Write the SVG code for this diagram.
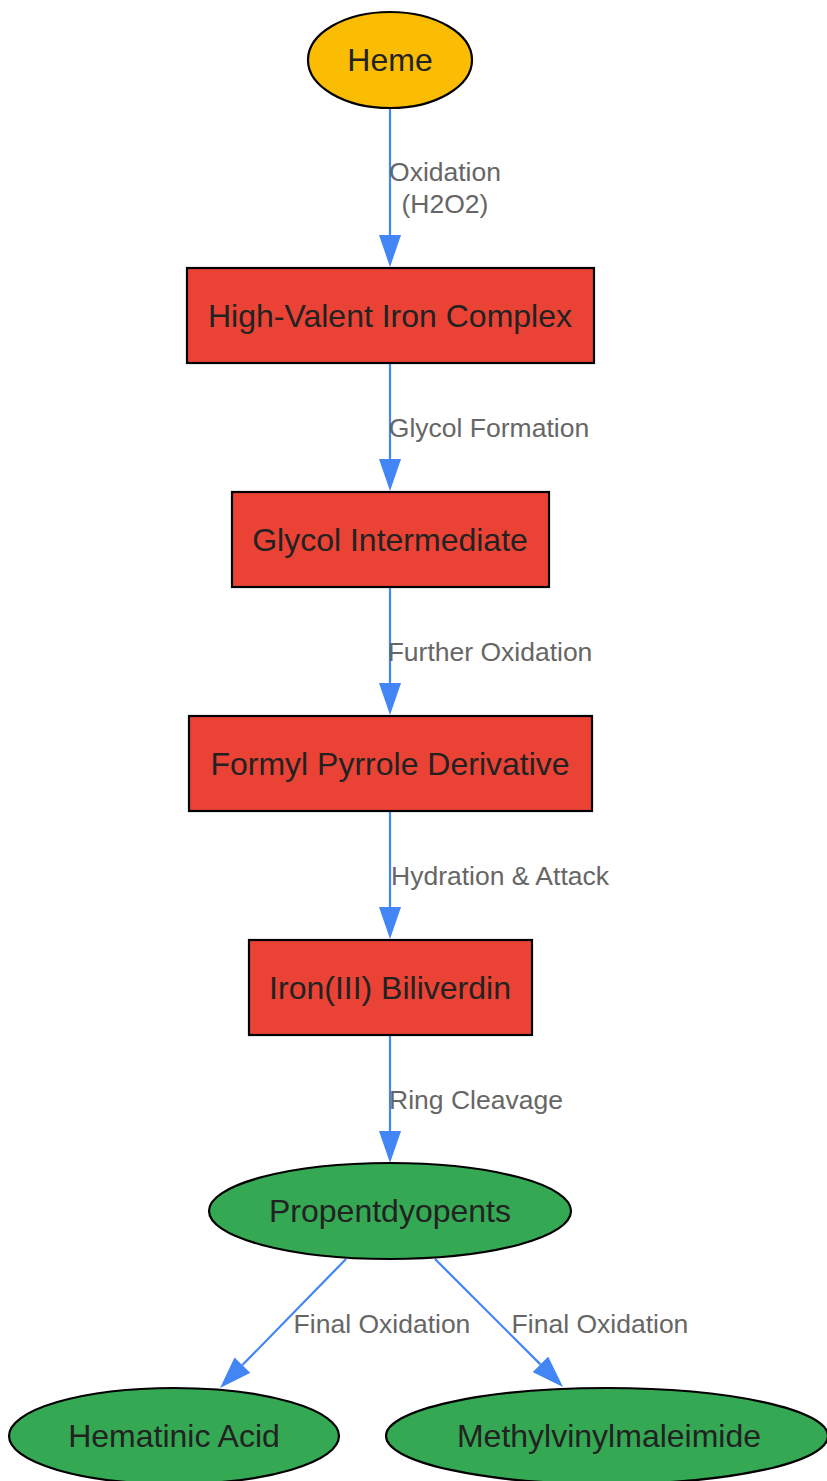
<svg xmlns="http://www.w3.org/2000/svg" width="827" height="1481" viewBox="0 0 827 1481">
<style>
.nt{font-family:"Liberation Sans",Arial,sans-serif;font-size:32px;fill:#222;text-anchor:middle}
.el{font-family:"Liberation Sans",Arial,sans-serif;font-size:26.5px;fill:#666;text-anchor:middle}
.ns{stroke:#000;stroke-width:2.2}
.ed{stroke:#4285F4;stroke-width:2.2;fill:none}
</style>
<defs>
<marker id="ah" markerUnits="userSpaceOnUse" markerWidth="32" markerHeight="22" refX="0" refY="11" orient="auto" viewBox="0 0 32 22">
<path d="M0,0 L32,11 L0,22 z" fill="#4285F4"/>
</marker>
</defs>
<rect width="827" height="1481" fill="#fff"/>
<g id="connectors">
<line class="ed" x1="390" y1="108" x2="390" y2="235" marker-end="url(#ah)"/>
<line class="ed" x1="390" y1="363" x2="390" y2="459" marker-end="url(#ah)"/>
<line class="ed" x1="390" y1="587" x2="390" y2="683" marker-end="url(#ah)"/>
<line class="ed" x1="390" y1="811" x2="390" y2="907" marker-end="url(#ah)"/>
<line class="ed" x1="390" y1="1035" x2="390" y2="1131" marker-end="url(#ah)"/>
<line class="ed" x1="346" y1="1259" x2="242.4" y2="1365.1" marker-end="url(#ah)"/>
<line class="ed" x1="435" y1="1259" x2="540.4" y2="1364.4" marker-end="url(#ah)"/>
<text class="el" x="445" y="181">Oxidation</text>
<text class="el" x="445" y="213">(H2O2)</text>
<text class="el" x="489" y="437">Glycol Formation</text>
<text class="el" x="490" y="661">Further Oxidation</text>
<text class="el" x="500" y="885">Hydration &amp; Attack</text>
<text class="el" x="476" y="1109">Ring Cleavage</text>
<text class="el" x="382" y="1333">Final Oxidation</text>
<text class="el" x="600" y="1333">Final Oxidation</text>
</g>
<g id="heme">
<ellipse class="ns" cx="390" cy="60" rx="82" ry="48" fill="#FBBC04"/>
<text class="nt" x="390" y="71">Heme</text>
</g>
<g id="high-valent">
<rect class="ns" x="187" y="268" width="407" height="95" fill="#EA4335"/>
<text class="nt" x="390" y="327">High-Valent Iron Complex</text>
</g>
<g id="glycol">
<rect class="ns" x="232" y="492" width="317" height="95" fill="#EA4335"/>
<text class="nt" x="390" y="551">Glycol Intermediate</text>
</g>
<g id="formyl">
<rect class="ns" x="189" y="716" width="403" height="95" fill="#EA4335"/>
<text class="nt" x="390" y="775">Formyl Pyrrole Derivative</text>
</g>
<g id="biliverdin">
<rect class="ns" x="249" y="940" width="283" height="95" fill="#EA4335"/>
<text class="nt" x="390" y="999">Iron(III) Biliverdin</text>
</g>
<g id="propentdyopents">
<ellipse class="ns" cx="390" cy="1211" rx="181" ry="48" fill="#34A853"/>
<text class="nt" x="390" y="1222">Propentdyopents</text>
</g>
<g id="hematinic">
<ellipse class="ns" cx="174" cy="1436" rx="165" ry="48" fill="#34A853"/>
<text class="nt" x="174" y="1447">Hematinic Acid</text>
</g>
<g id="methylvinylmaleimide">
<ellipse class="ns" cx="607" cy="1436" rx="221" ry="48" fill="#34A853"/>
<text class="nt" x="609" y="1447">Methylvinylmaleimide</text>
</g>
</svg>
